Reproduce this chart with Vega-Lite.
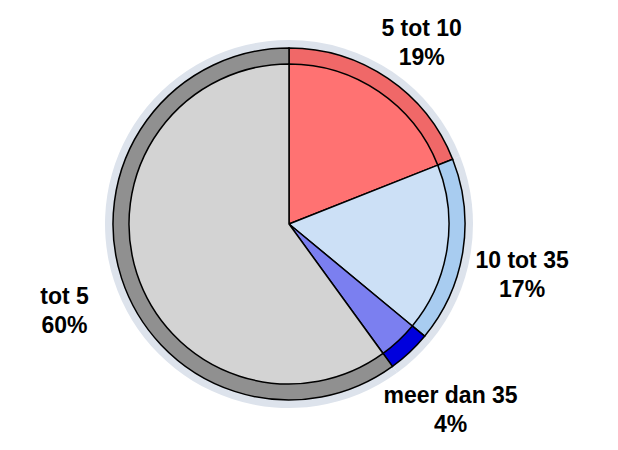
{
  "$schema": "https://vega.github.io/schema/vega-lite/v6.json",
  "width": 618,
  "height": 450,
  "autosize": {"type": "fit", "contains": "padding"},
  "padding": {"left": 0, "right": 40, "top": 14, "bottom": 16},
  "background": "white",
  "data": {
    "values": [
      {"categorie": "5 tot 10", "pct": 19, "volgorde": 1, "label": "5 tot 10\n19%"},
      {"categorie": "10 tot 35", "pct": 17, "volgorde": 2, "label": "10 tot 35\n17%"},
      {"categorie": "meer dan 35", "pct": 4, "volgorde": 3, "label": "meer dan 35\n4%"},
      {"categorie": "tot 5", "pct": 60, "volgorde": 4, "label": "tot 5\n60%"}
    ]
  },
  "encoding": {
    "theta": {"field": "pct", "type": "quantitative", "stack": true},
    "order": {"field": "volgorde", "type": "quantitative"}
  },
  "layer": [
    {
      "mark": {"type": "arc", "outerRadius": 184, "fill": "#dde3ec"}
    },
    {
      "mark": {"type": "arc", "outerRadius": 176, "stroke": "black", "strokeWidth": 1.5},
      "encoding": {
        "color": {
          "field": "categorie",
          "type": "nominal",
          "scale": {
            "domain": ["5 tot 10", "10 tot 35", "meer dan 35", "tot 5"],
            "range": ["#f06868", "#a8ccf0", "#0000dd", "#909090"]
          },
          "legend": null
        }
      }
    },
    {
      "mark": {"type": "arc", "outerRadius": 160, "stroke": "black", "strokeWidth": 1.5},
      "encoding": {
        "color": {
          "field": "categorie",
          "type": "nominal",
          "scale": {
            "domain": ["5 tot 10", "10 tot 35", "meer dan 35", "tot 5"],
            "range": ["#ff7272", "#cce0f6", "#7b7ff0", "#d3d3d3"]
          },
          "legend": null
        }
      }
    },
    {
      "mark": {
        "type": "text",
        "radius": 236,
        "fontSize": 23,
        "fontWeight": "bold",
        "font": "Liberation Sans",
        "lineBreak": "\n",
        "lineHeight": 29,
        "color": "black"
      },
      "encoding": {
        "text": {"field": "label", "type": "nominal"}
      }
    }
  ],
  "resolve": {"scale": {"color": "independent"}},
  "config": {"view": {"stroke": null}}
}
